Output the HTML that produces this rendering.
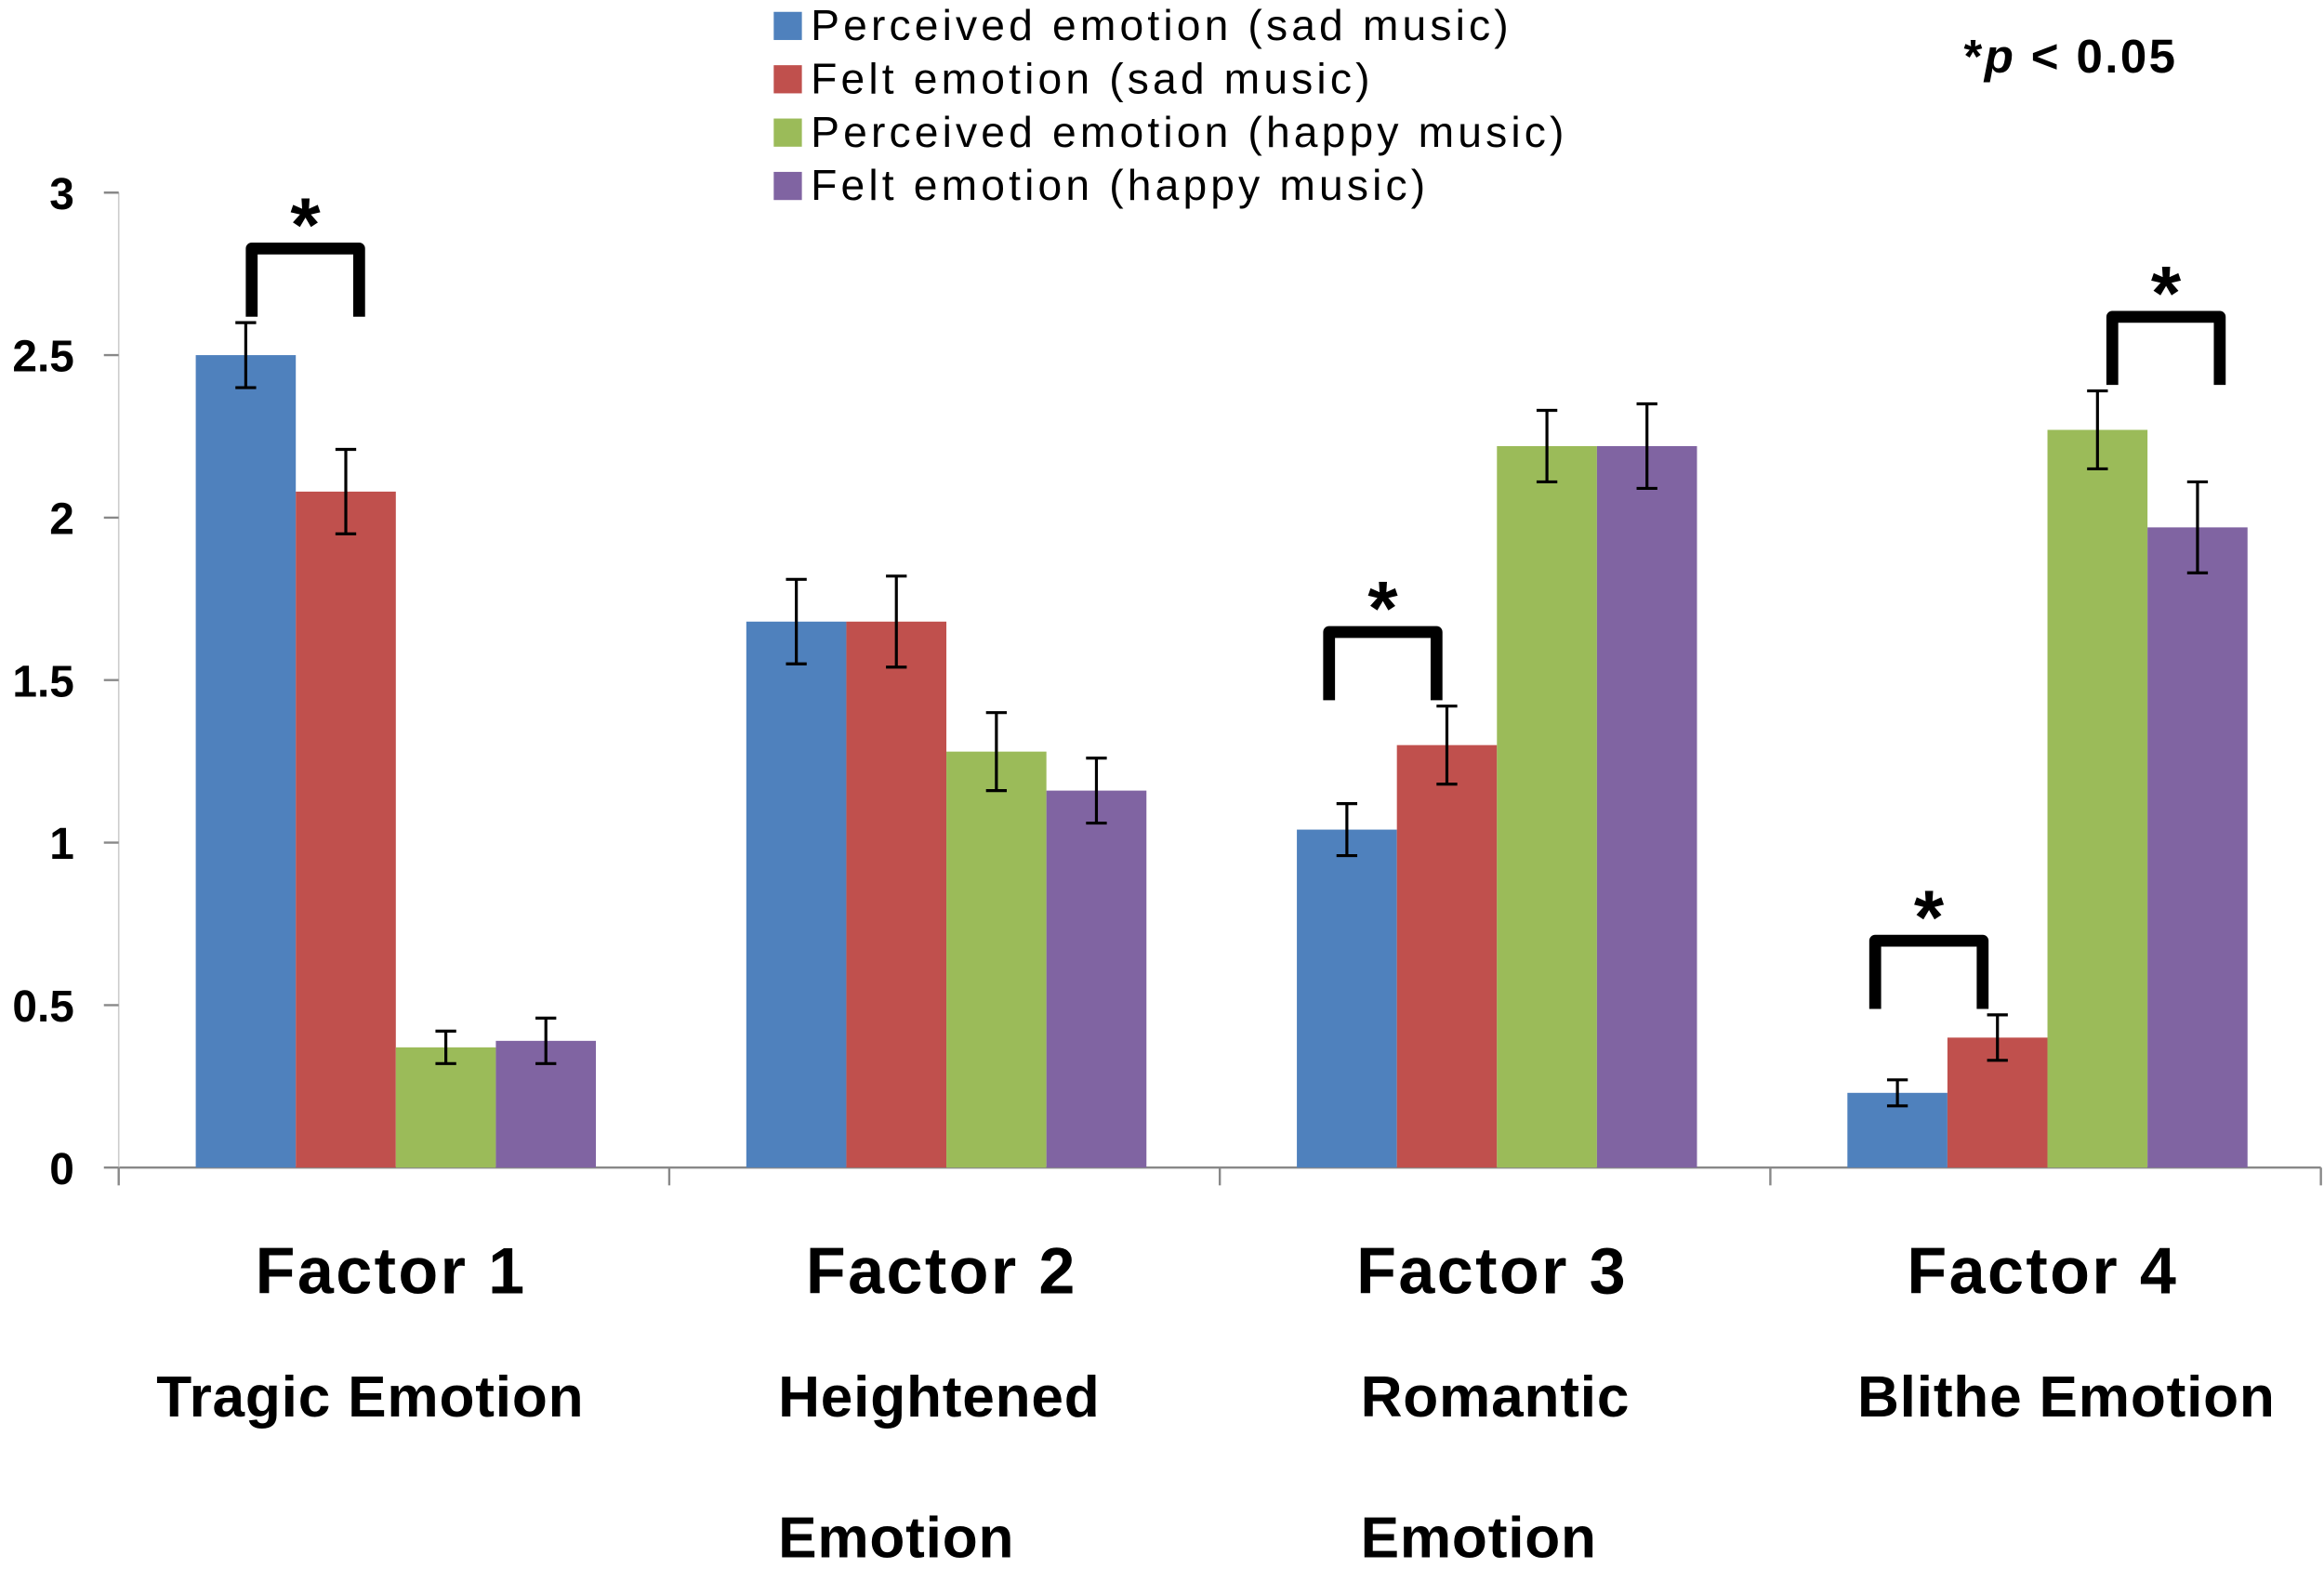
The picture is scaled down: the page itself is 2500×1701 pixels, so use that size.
<!DOCTYPE html>
<html><head><meta charset="utf-8"><style>
html,body{margin:0;padding:0;background:#fff;}
svg{display:block;font-family:"Liberation Sans",sans-serif;}
</style></head><body>
<svg id="chart" width="2500" height="1701" viewBox="0 0 1568 1067" xmlns="http://www.w3.org/2000/svg">
<g id="axes"></g>
<g id="bars"></g>
<g id="sig"></g>
<g id="legend"></g>
<g id="labels"></g>
</svg>
<script>
const categories = ["Factor 1","Factor 2","Factor 3","Factor 4"];
const subtitles = [["Tragic Emotion"],["Heightened","Emotion"],["Romantic","Emotion"],["Blithe Emotion"]];
const seriesNames = ["Perceived emotion (sad music)","Felt emotion (sad music)","Perceived emotion (happy music)","Felt emotion (happy music)"];
const perceivedSad = [2.5, 1.68, 1.04, 0.23];
const feltSad = [2.08, 1.68, 1.30, 0.40];
const perceivedHappy = [0.37, 1.28, 2.22, 2.27];
const feltHappy = [0.39, 1.16, 2.22, 1.97];
const errPerceivedSad = [0.10, 0.13, 0.08, 0.04];
const errFeltSad = [0.13, 0.14, 0.12, 0.07];
const errPerceivedHappy = [0.05, 0.12, 0.11, 0.12];
const errFeltHappy = [0.07, 0.10, 0.13, 0.14];
const yTicks = [0, 0.5, 1, 1.5, 2, 2.5, 3];
const yTickLabels = ["0","0.5","1","1.5","2","2.5","3"];
// significance: [category, seriesA, seriesB]
const sigPairs = [[0,0,1],[2,0,1],[3,0,1],[3,2,3]];
const sigShift = [4, -12, -15, 10];
const subX = [null, 525, 918, null];
const subDx = [-16, 0, 0, 14];

const colors = ["#4F81BD","#C0504D","#9BBB59","#8064A2"];
const series = [perceivedSad, feltSad, perceivedHappy, feltHappy];
const errs = [errPerceivedSad, errFeltSad, errPerceivedHappy, errFeltHappy];
const NS = "http://www.w3.org/2000/svg";
const x0 = 80, x1 = 1566, groupW = (x1 - x0) / categories.length, barW = 67.5, pad = 52;
const yZero = 788, yTop = 130, yMax = 3;
const y = v => yZero - (v / yMax) * (yZero - yTop);
const barX = (c, s) => x0 + c * groupW + pad + s * barW;
function mk(tag, attrs, parent) { const e = document.createElementNS(NS, tag); for (const k in attrs) e.setAttribute(k, attrs[k]); parent.appendChild(e); return e; }

const axes = document.getElementById("axes");
const xa = mk("line", {x1: x0, y1: yZero, x2: x1, y2: yZero, stroke: "#888", "stroke-width": 1.5}, axes);


const ya = mk("line", {x1: x0, y1: yTop, x2: x0, y2: yZero, stroke: "#ccc", "stroke-width": 1}, axes);


for (let i = 0; i <= categories.length; i++) {
  const xx = x0 + i * groupW;
  const t = mk("line", {x1: xx, y1: yZero, x2: xx, y2: yZero + 12, stroke: "#888", "stroke-width": 1.5}, axes);
  
  
}
yTicks.forEach((v, i) => {
  const t = mk("line", {x1: x0 - 10, y1: y(v), x2: x0, y2: y(v), stroke: "#888", "stroke-width": 1.5}, axes);
  
  
  const tx = mk("text", {x: 50, y: y(v) + 11, "text-anchor": "end", "font-size": 30, "font-weight": "bold", fill: "#000"}, axes);
  tx.textContent = yTickLabels[i];
  
  
});

const bars = document.getElementById("bars");
series.forEach((vals, s) => vals.forEach((v, c) => {
  const bx = barX(c, s);
  const r = mk("rect", {x: bx, y: y(v), width: barW, height: yZero - y(v), fill: colors[s]}, bars);
  
  
  const cx = bx + barW / 2, e = errs[s][c];
  const g = mk("g", {stroke: "#000", "stroke-width": 2}, bars);
  
  
  mk("line", {x1: cx, y1: y(v + e), x2: cx, y2: y(v - e)}, g);
  mk("line", {x1: cx - 7, y1: y(v + e), x2: cx + 7, y2: y(v + e)}, g);
  mk("line", {x1: cx - 7, y1: y(v - e), x2: cx + 7, y2: y(v - e)}, g);
}));

const sig = document.getElementById("sig");
sigPairs.forEach(([c, a, b], i) => {
  const xa_ = barX(c, a) + barW / 2 + sigShift[i], xb = barX(c, b) + barW / 2 + sigShift[i] + 5;
  const top = Math.max(series[a][c] + errs[a][c], series[b][c] + errs[b][c]);
  const yb = y(top) - 4, yt = yb - 46;
  const p = mk("path", {d: `M${xa_},${yb} L${xa_},${yt} L${xb},${yt} L${xb},${yb}`, fill: "none", stroke: "#000", "stroke-width": 8, "stroke-linejoin": "round"}, sig);
  
  
  const st = mk("text", {x: (xa_ + xb) / 2, y: yt + 2, "text-anchor": "middle", "font-size": 52, "font-weight": "bold"}, sig);
  st.textContent = "*";
  
  
});

const legend = document.getElementById("legend");
seriesNames.forEach((n, i) => {
  const ly = 17 + i * 36;
  const r = mk("rect", {x: 522, y: ly - 9, width: 19, height: 19, fill: colors[i]}, legend);
  
  
  const t = mk("text", {x: 547, y: ly + 10, "font-size": 29, "letter-spacing": 2.6, fill: "#000"}, legend);
  t.textContent = n;
  
  
});
const pv = mk("text", {x: 1325, y: 49, "font-size": 32, "font-weight": "bold", "letter-spacing": 1.5}, legend);
pv.innerHTML = '*<tspan font-style="italic">p</tspan> &lt; 0.05';



const labels = document.getElementById("labels");
categories.forEach((n, c) => {
  const cx = x0 + c * groupW + groupW / 2;
  const t = mk("text", {x: cx - 2, y: 873, "text-anchor": "middle", "font-size": 44, "font-weight": "bold", "letter-spacing": 1.5}, labels);
  t.textContent = n;
  
  
  const lines = subtitles[c];
  lines.forEach((ln, k) => {
    const one = lines.length === 1;
    const s = mk("text", {x: one ? cx + subDx[c] : subX[c], y: 956 + k * 95, "text-anchor": one ? "middle" : "start", "font-size": 39, "font-weight": "bold", "letter-spacing": 0.5}, labels);
    s.textContent = ln;
    
    
  });
});
</script>
</body></html>
